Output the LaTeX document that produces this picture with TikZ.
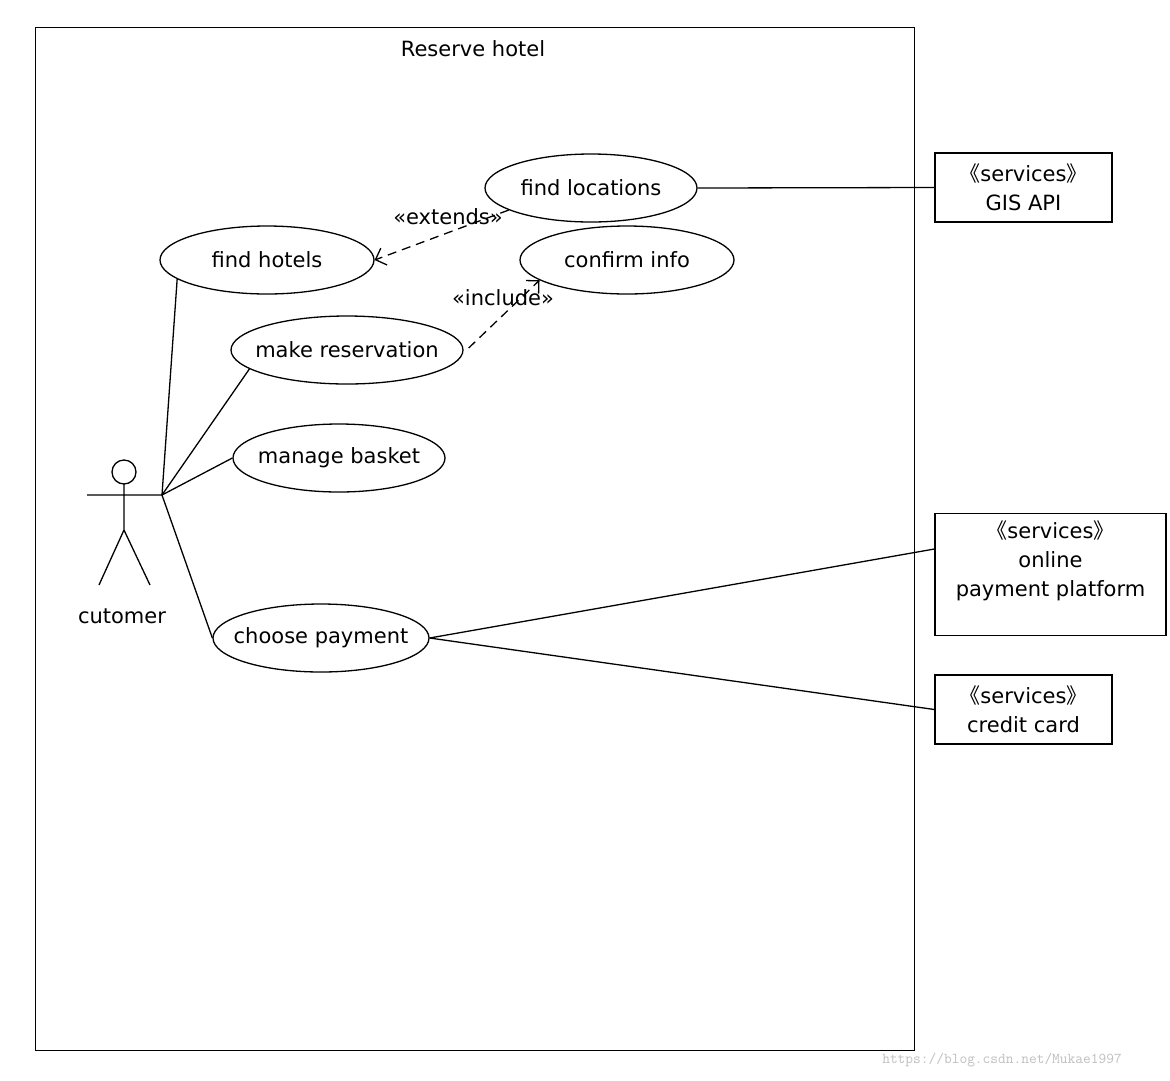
\documentclass[tikz,border=0pt]{standalone}
\usepackage{fontspec}
\setmainfont{DejaVu Sans}
\newfontfamily\cjk{Noto Sans CJK SC}
\usetikzlibrary{shapes.geometric,arrows.meta}
\newcommand{\svc}{{\cjk 《}services{\cjk 》}}
\begin{document}
\begin{tikzpicture}[x=1pt,y=-1pt,line width=1.3pt,
  uc/.style={draw,ellipse,inner xsep=-40pt,inner ysep=0pt,font=\fontsize{21}{25}\selectfont},
  box/.style={draw,rectangle,inner sep=0pt,align=center,font=\fontsize{21}{29}\selectfont},
  lbl/.style={font=\fontsize{21}{25}\selectfont},
  dep/.style={dashed,dash pattern=on 9pt off 6pt,-{Straight Barb[length=9pt,width=18pt]}}]
\useasboundingbox (0,0) rectangle (1170,1080);
\node[draw,rectangle,minimum width=879pt,minimum height=1023pt,anchor=north west,inner sep=0pt] (sys) at (35,27) {};
\node[lbl] (title) at (473,49) {Reserve hotel};
% actor
\draw (124,472) circle (12);
\draw (124,484) -- (124,530) -- (99,585) (124,530) -- (150,585) (87,495) -- (162,495);
\coordinate (hand) at (162,495);
\node[lbl] (actor) at (122,616) {cutomer};
% use cases
\node[uc,minimum width=212pt,minimum height=68pt] (fl) at (591,188) {find locations};
\node[uc,minimum width=214pt,minimum height=68pt] (fh) at (267,260) {find hotels};
\node[uc,minimum width=214pt,minimum height=68pt] (ci) at (627,260) {confirm info};
\node[uc,minimum width=232pt,minimum height=68pt] (mr) at (347,350) {make reservation};
\node[uc,minimum width=212pt,minimum height=68pt] (mb) at (339,458) {manage basket};
\node[uc,minimum width=216pt,minimum height=68pt] (cp) at (321,638) {choose payment};
% boxes
\node[box,minimum width=177pt,minimum height=69pt] (gis) at (1023.5,187.5) {\svc\\GIS API};
\node[box,minimum width=231pt,minimum height=122pt,anchor=north] (opp) at (1050.5,513) {\rule{0pt}{22pt}\svc\\online\\payment platform\\[8pt]};
\node[box,minimum width=177pt,minimum height=69pt] (cc) at (1023.5,709.5) {\svc\\credit card};
% associations
\draw (hand) -- (fh.192);
\draw (hand) -- (mr.191);
\draw (hand) -- (mb.west);
\draw (hand) -- (cp.west);
\draw (fl.east) -- (gis.west);
\draw (cp.east) -- (opp.west |- 0,549);
\draw (cp.east) -- (cc.west);
% dependencies
\draw[dep] (fl.195) -- (fh.east);
\node[lbl] (ext) at (448,217) {«extends»};
\draw[dep] (mr.east) ++(5,-2) -- (ci.193);
\node[lbl] (inc) at (503,298) {«include»};
\node[font=\ttfamily\fontsize{15}{17}\selectfont,text=black!25] (wm) at (1002,1060) {https://blog.csdn.net/Mukae1997};
\end{tikzpicture}
\end{document}
